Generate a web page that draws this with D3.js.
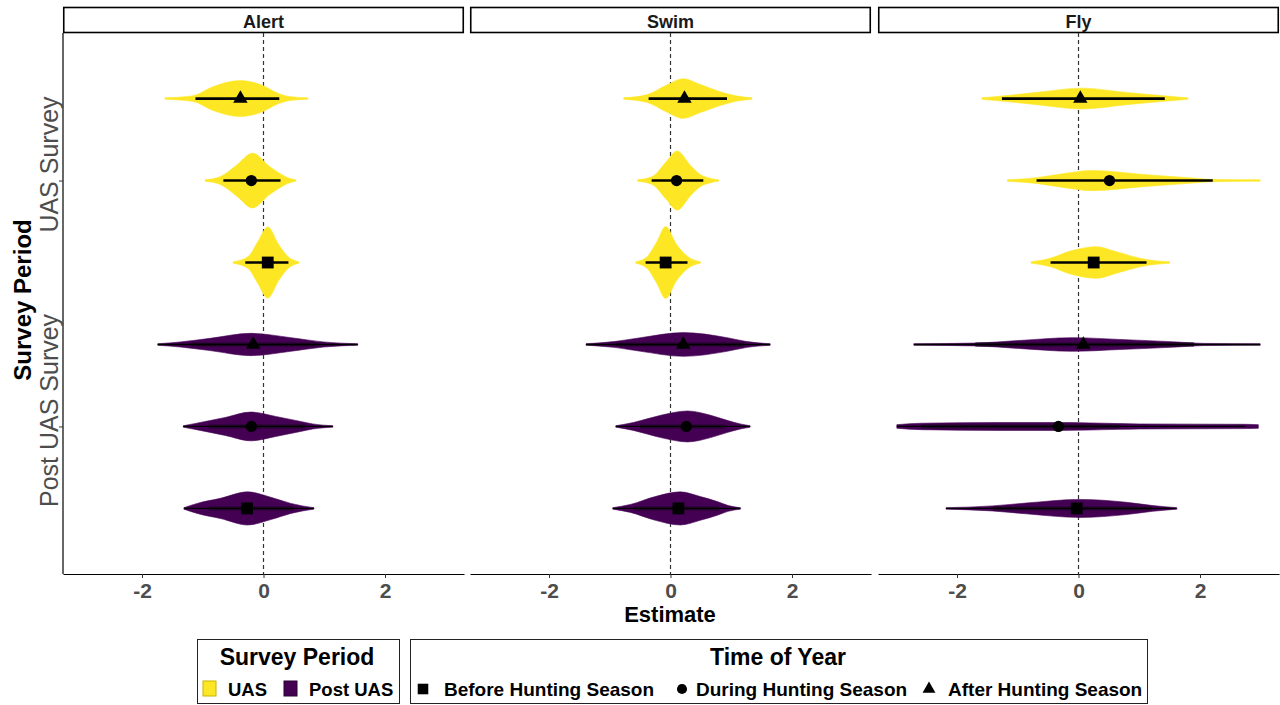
<!DOCTYPE html>
<html><head><meta charset="utf-8">
<script src="https://cdn.jsdelivr.net/npm/d3@7"></script>
<style>body{margin:0;background:#fff} text{font-family:"Liberation Sans",Arial,sans-serif}</style>
</head><body><svg id="c" width="1280" height="705"></svg>
<script>
const panels = ["Alert", "Swim", "Fly"];
const periods = ["UAS Survey", "Post UAS Survey"];
const periodLegend = ["UAS", "Post UAS"];
const seasons = ["Before Hunting Season", "During Hunting Season", "After Hunting Season"];
const xTicks = [-2, 0, 2];
const xDomain = [-3.3, 3.3];

// Row order: UAS Before, UAS During, UAS After, Post Before, Post During, Post After
const alertEstimate = [0.07, -0.2, -0.38, -0.27, -0.2, -0.17];
const alertLower = [-0.3, -0.66, -1.12, -1.31, -1.32, -1.74];
const alertUpper = [0.41, 0.28, 0.26, 0.83, 1.14, 1.55];
const alertInnerLower = [null, null, null, -0.9, -0.9, -1.2];
const alertInnerUpper = [null, null, null, 0.5, 0.7, 0.9];
const alertDensity = [
  [[-0.5,0.02],[-0.25,0.17],[-0.1,0.56],[0.07,0.99],[0.25,0.5],[0.4,0.17],[0.58,0.02]],
  [[-0.96,0.02],[-0.71,0.11],[-0.45,0.42],[-0.18,0.76],[0.1,0.39],[0.25,0.22],[0.4,0.08],[0.53,0.02]],
  [[-1.62,0.02],[-1.16,0.08],[-0.83,0.33],[-0.38,0.5],[-0.05,0.39],[0.25,0.14],[0.41,0.06],[0.73,0.02]],
  [[-1.31,0.02],[-1.09,0.14],[-0.71,0.28],[-0.26,0.46],[0.12,0.31],[0.45,0.14],[0.64,0.07],[0.83,0.02]],
  [[-1.32,0.02],[-1.04,0.11],[-0.63,0.25],[-0.21,0.4],[0.2,0.28],[0.61,0.14],[0.81,0.07],[1.14,0.02]],
  [[-1.74,0.02],[-1.37,0.07],[-0.88,0.17],[-0.21,0.31],[0.45,0.19],[0.99,0.07],[1.55,0.02]]
];

const swimEstimate = [-0.08, 0.1, 0.23, 0.13, 0.26, 0.21];
const swimLower = [-0.41, -0.31, -0.36, -0.95, -0.9, -1.39];
const swimUpper = [0.28, 0.54, 0.93, 1.15, 1.31, 1.64];
const swimInnerLower = [null, null, null, -0.6, -0.5, -0.9];
const swimInnerUpper = [null, null, null, 0.8, 0.9, 1.2];
const swimDensity = [
  [[-0.57,0.02],[-0.38,0.17],[-0.23,0.56],[-0.08,1.0],[0.1,0.5],[0.28,0.17],[0.49,0.02]],
  [[-0.54,0.02],[-0.3,0.11],[-0.08,0.5],[0.11,0.82],[0.33,0.42],[0.49,0.17],[0.66,0.06],[0.79,0.02]],
  [[-0.77,0.02],[-0.38,0.11],[-0.08,0.36],[0.21,0.55],[0.49,0.39],[0.82,0.19],[1.1,0.07],[1.34,0.02]],
  [[-0.95,0.02],[-0.66,0.11],[-0.25,0.33],[0.16,0.46],[0.49,0.33],[0.77,0.19],[0.95,0.08],[1.15,0.02]],
  [[-0.9,0.02],[-0.61,0.11],[-0.16,0.31],[0.28,0.43],[0.66,0.31],[0.93,0.17],[1.15,0.07],[1.31,0.02]],
  [[-1.39,0.02],[-0.93,0.08],[-0.49,0.19],[0.21,0.33],[0.93,0.19],[1.26,0.08],[1.64,0.02]]
];

const flyEstimate = [0.25, 0.51, 0.03, -0.03, -0.33, 0.08];
const flyLower = [-0.46, -0.69, -1.26, -2.18, -2.99, -2.71];
const flyUpper = [1.12, 2.21, 1.42, 1.6, 2.74, 2.99];
const flyInnerLower = [null, null, null, -1.4, -2.58, -1.7];
const flyInnerUpper = [null, null, null, 1.2, 0.68, 1.9];
const flyDensity = [
  [[-0.78,0.02],[-0.48,0.11],[-0.15,0.31],[0.3,0.44],[0.6,0.31],[0.89,0.17],[1.17,0.07],[1.5,0.02]],
  [[-1.17,0.02],[-0.69,0.08],[-0.26,0.19],[0.23,0.28],[1.06,0.17],[1.88,0.07],[2.21,0.03],[2.99,0.02]],
  [[-1.59,0.02],[-1.26,0.07],[-0.64,0.18],[0.05,0.29],[0.79,0.17],[1.45,0.07],[1.8,0.02]],
  [[-2.18,0.02],[-1.42,0.07],[-0.86,0.15],[0.02,0.25],[0.79,0.17],[1.22,0.08],[1.62,0.02]],
  [[-2.99,0.05],[-2.58,0.09],[-1.31,0.11],[-0.31,0.11],[0.68,0.08],[1.0,0.07],[2.74,0.06],[2.96,0.05]],
  [[-2.71,0.02],[-1.69,0.04],[-0.98,0.11],[-0.1,0.19],[0.68,0.14],[1.62,0.07],[2.05,0.03],[2.99,0.02]]
];

const panelData = {
  Alert: {est: alertEstimate, lo: alertLower, hi: alertUpper, ilo: alertInnerLower, ihi: alertInnerUpper, dens: alertDensity},
  Swim: {est: swimEstimate, lo: swimLower, hi: swimUpper, ilo: swimInnerLower, ihi: swimInnerUpper, dens: swimDensity},
  Fly: {est: flyEstimate, lo: flyLower, hi: flyUpper, ilo: flyInnerLower, ihi: flyInnerUpper, dens: flyDensity}
};

const periodColor = d3.scaleOrdinal().domain(periods).range(["#FDE725", "#440154"]);
const seasonSymbol = d3.scaleOrdinal().domain(seasons).range([d3.symbolSquare, d3.symbolCircle, d3.symbolTriangle]);
const seasonSize = d3.scaleOrdinal().domain(seasons).range([140, 100, 90]);

const svg = d3.select("#c");
const plotTop = 33, plotBottom = 574;
const panelLeft = [63, 470, 878], panelWidth = 401;

const y = d3.scalePoint().domain(periods).range([plotTop, plotBottom]).padding(0.6);
const step = y.step();
const dodge = d3.scalePoint().domain(seasons).range([step / 3, -step / 3]);
const w = d3.scaleLinear().domain([0, 1]).range([0, 36]);

const rows = d3.cross(periods, seasons);

panels.forEach((p, i) => {
  const x0 = panelLeft[i];
  const x = d3.scaleLinear().domain(xDomain).range([x0, x0 + panelWidth]);
  const g = svg.append("g");
  const pd = panelData[p];

  // strip
  g.append("rect").attr("x", x0 + 0.75).attr("y", 7.5).attr("width", panelWidth - 1.5).attr("height", 25)
    .attr("fill", "#fff").attr("stroke", "#000").attr("stroke-width", 1.6);
  g.append("text").attr("x", x0 + panelWidth / 2).attr("y", 27.5).attr("text-anchor", "middle")
    .attr("font-size", 18).attr("font-weight", "bold").attr("fill", "#1a1a1a").text(p);

  // reference line at 0
  g.append("line").attr("x1", x(0)).attr("x2", x(0)).attr("y1", plotTop).attr("y2", plotBottom)
    .attr("stroke", "#333").attr("stroke-width", 1.2).attr("stroke-dasharray", "4,3");

  rows.forEach(([per, sea], r) => {
    const cy = y(per) + dodge(sea);
    const col = periodColor(per);
    const area = d3.area().x(d => x(d[0])).y0(d => cy - w(d[1])).y1(d => cy + w(d[1])).curve(d3.curveMonotoneX);
    g.append("path").attr("d", area(pd.dens[r])).attr("fill", col)
      .attr("stroke", col).attr("stroke-width", 0.6);
    if (per === periods[0]) {
      g.append("line").attr("x1", x(pd.lo[r])).attr("x2", x(pd.hi[r])).attr("y1", cy).attr("y2", cy)
        .attr("stroke", "#000").attr("stroke-width", 2.6);
    } else {
      g.append("line").attr("x1", x(pd.ilo[r])).attr("x2", x(pd.ihi[r])).attr("y1", cy).attr("y2", cy)
        .attr("stroke", "#24042c").attr("stroke-width", 4);
      g.append("line").attr("x1", x(pd.lo[r])).attr("x2", x(pd.hi[r])).attr("y1", cy).attr("y2", cy)
        .attr("stroke", "#000").attr("stroke-width", 1.3);
    }
    g.append("path").attr("d", d3.symbol(seasonSymbol(sea), seasonSize(sea))())
      .attr("transform", `translate(${x(pd.est[r])},${cy})`).attr("fill", "#000");
  });

  // x axis
  const ax = g.append("g").attr("transform", `translate(0,${plotBottom})`)
    .call(d3.axisBottom(x).tickValues(xTicks).tickSize(4).tickSizeOuter(0).tickFormat(d3.format("d")));
  ax.select(".domain").attr("stroke", "#000").attr("stroke-width", 1.2);
  ax.selectAll(".tick line").attr("stroke", "#333").attr("stroke-width", 1);
  ax.selectAll(".tick text").attr("font-size", 21).attr("font-weight", "bold").attr("fill", "#4d4d4d")
    .attr("font-family", "Liberation Sans, Arial, sans-serif").attr("dy", "0.92em").attr("y", 5)
    .text(d => d < 0 ? "-" + Math.abs(d) : d);

  if (i === 0) {
    const ay = g.append("g").attr("transform", `translate(${x0},0)`)
      .call(d3.axisLeft(y).tickSize(4).tickSizeOuter(0).tickFormat(""));
    ay.select(".domain").attr("stroke", "#000").attr("stroke-width", 1.2).attr("d", `M0,${plotTop}V${plotBottom}`);
    ay.selectAll(".tick line").attr("stroke", "#333");
    periods.forEach(per => {
      svg.append("text").attr("transform", `translate(58,${y(per) - 16}) rotate(-90)`)
        .attr("text-anchor", "middle").attr("font-size", 25).attr("fill", "#4d4d4d").text(per);
    });
  }
});

// axis titles
svg.append("text").attr("x", 670).attr("y", 622).attr("text-anchor", "middle")
  .attr("font-size", 22).attr("font-weight", "bold").attr("fill", "#000").text("Estimate");
svg.append("text").attr("transform", "translate(31,300) rotate(-90)").attr("text-anchor", "middle")
  .attr("font-size", 24).attr("font-weight", "bold").attr("fill", "#000").text("Survey Period");

// legends
const lg1 = svg.append("g");
lg1.append("rect").attr("x", 197.5).attr("y", 639.5).attr("width", 202).attr("height", 64)
  .attr("fill", "#fff").attr("stroke", "#222").attr("stroke-width", 1);
lg1.append("text").attr("x", 297).attr("y", 665).attr("text-anchor", "middle").attr("font-size", 23)
  .attr("font-weight", "bold").text("Survey Period");
const pKeyX = [203, 284], pTextX = [228, 309];
periods.forEach((per, k) => {
  lg1.append("rect").attr("x", pKeyX[k]).attr("y", 681).attr("width", 13).attr("height", 15)
    .attr("fill", periodColor(per)).attr("stroke", k === 0 ? "#c9b400" : "#2a0033").attr("stroke-width", 1);
  lg1.append("text").attr("x", pTextX[k]).attr("y", 696).attr("font-size", 18.5).attr("font-weight", "bold")
    .text(periodLegend[k]);
});

const lg2 = svg.append("g");
lg2.append("rect").attr("x", 410.5).attr("y", 639.5).attr("width", 737).attr("height", 64)
  .attr("fill", "#fff").attr("stroke", "#222").attr("stroke-width", 1);
lg2.append("text").attr("x", 778).attr("y", 665).attr("text-anchor", "middle").attr("font-size", 23)
  .attr("font-weight", "bold").text("Time of Year");
const sKeyX = [423, 682, 929], sTextX = [444, 696, 948];
seasons.forEach((s, k) => {
  lg2.append("path").attr("d", d3.symbol(seasonSymbol(s), seasonSize(s) * 0.8)())
    .attr("transform", `translate(${sKeyX[k]},689)`).attr("fill", "#000");
  lg2.append("text").attr("x", sTextX[k]).attr("y", 696).attr("font-size", 19).attr("font-weight", "bold")
    .text(s);
});
</script></body></html>
